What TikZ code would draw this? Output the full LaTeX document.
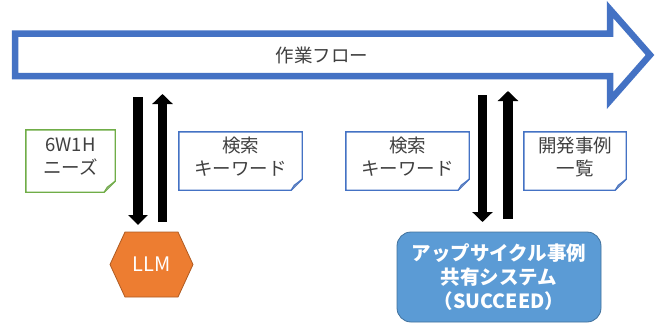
\documentclass[tikz,border=0pt]{standalone}
\usepackage{fontspec}
\setmainfont{Noto Sans CJK JP}
\usetikzlibrary{arrows.meta,calc}
\definecolor{flowblue}{HTML}{4472C4}
\definecolor{notegreen}{HTML}{70AD47}
\definecolor{txtgray}{HTML}{404040}
\definecolor{llmorange}{HTML}{ED7D31}
\definecolor{llmborder}{HTML}{AE5A21}
\definecolor{sysfill}{HTML}{5B9BD5}
\definecolor{sysborder}{HTML}{41719C}
\tikzset{
  notebox/.style={draw=none, inner sep=0pt, minimum width=#1},
  notetext/.style={align=center, text=txtgray, font=\fontsize{18.5}{23}\selectfont, inner sep=0pt},
  blockarrow/.style={line width=9.5pt, -{Triangle[width=20pt,length=10pt]}},
}
\newcommand{\drawnote}[2]{%
  \draw[#2, line width=1.4pt, line join=miter, fill=white]
    (#1.north west) -- (#1.north east) -- ([yshift=11pt]#1.south east)
    -- ([xshift=-11pt]#1.south east) -- (#1.south west) -- cycle;
  \fill[#2!55!gray!80] ([xshift=-11pt]#1.south east) -- ([yshift=11pt]#1.south east)
    -- ([xshift=-8pt,yshift=5pt]#1.south east) -- cycle;
  \draw[#2, line width=1pt] ([xshift=-11pt]#1.south east) -- ([xshift=-8pt,yshift=5pt]#1.south east) -- ([yshift=11pt]#1.south east);
}
\begin{document}
\begin{tikzpicture}[x=1pt,y=-1pt]
\useasboundingbox (0,0) rectangle (659,324);
% big flow arrow
\draw[flowblue, line width=6.5pt, line join=miter, fill=white]
  (15,33.5) -- (610,33.5) -- (610,9.5) -- (650,55) -- (610,100.5) -- (610,76) -- (15,76) -- cycle;
\node[text=txtgray, font=\fontsize{18.5}{22}\selectfont, inner sep=0pt] (flow) at (322,55) {作業フロー};

% notes
\node[notebox=89pt, minimum height=62pt] (n1) at (70.5,161) {};
\drawnote{n1}{notegreen}
\node[notetext] (t1) at (70.5,156.5) {6W1H\\ニーズ};

\node[notebox=123pt, minimum height=58pt] (n2) at (240.5,161) {};
\drawnote{n2}{flowblue}
\node[notetext] (t2) at (240.5,156.5) {検索\\キーワード};

\node[notebox=123pt, minimum height=58pt] (n3) at (407.5,161) {};
\drawnote{n3}{flowblue}
\node[notetext] (t3) at (407.5,156.5) {検索\\キーワード};

\node[notebox=102pt, minimum height=58pt] (n4) at (575,161) {};
\drawnote{n4}{flowblue}
\node[notetext] (t4) at (575,156.5) {開発事例\\一覧};

% LLM hexagon
\draw[llmborder, line width=0.8pt, fill=llmorange]
  (110,264.5) -- (125,232) -- (178,232) -- (193,264.5) -- (178,297) -- (125,297) -- cycle;
\node[text=white, font=\fontsize{20}{24}\selectfont, inner sep=0pt] (llm) at (151.5,264) {LLM};

% system box
\node[draw=sysborder, line width=0.8pt, fill=sysfill, rounded corners=14pt,
      minimum width=204pt, minimum height=90pt, inner sep=0pt,
      text=white, align=center, font=\bfseries\fontsize{19.5}{24}\selectfont] (sys) at (499,277)
  {アップサイクル事例\\共有システム\\（SUCCEED）};

% vertical block arrows
\coordinate (a1s) at (138,97);   \coordinate (a1e) at (138,225);
\coordinate (a2s) at (162.5,222); \coordinate (a2e) at (162.5,94);
\coordinate (a3s) at (482.5,95); \coordinate (a3e) at (482.5,222);
\coordinate (a4s) at (508,219);  \coordinate (a4e) at (508,91);
\draw[blockarrow, line width=10pt, -{Triangle[width=19pt,length=10pt]}] (a1s) -- (a1e);
\draw[blockarrow] (a2s) -- (a2e);
\draw[blockarrow] (a3s) -- (a3e);
\draw[blockarrow, line width=10pt] (a4s) -- (a4e);
\end{tikzpicture}
\end{document}
